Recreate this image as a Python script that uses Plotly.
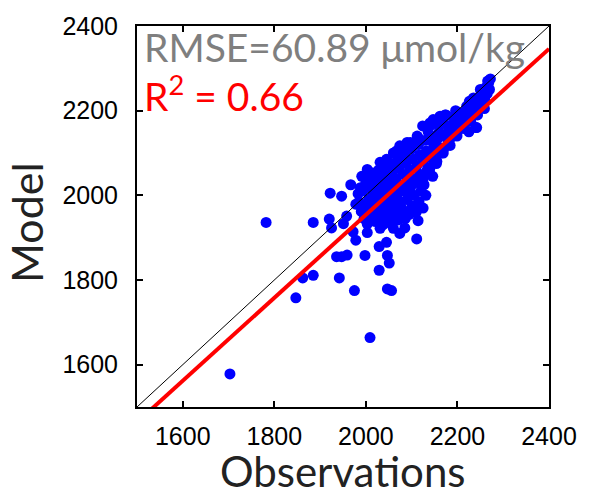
import plotly.graph_objects as go

# Observations (x) and model (y) values, µmol/kg
obs = [
    1703, 1782, 1847, 1862, 1885, 1885, 1920, 1925, 1942, 1936, 1947, 1959, 1958, 1951,
    1972, 1978, 1975, 1998, 2003, 2009, 2029, 2045, 2047, 2051, 2029, 2047, 2056, 2031,
    2060, 2074, 2085, 2111, 1922, 1947, 1967, 1983, 1978, 1991, 2003, 2015, 2038, 2053,
    2067,
    2016, 2031, 2045, 2060, 2074, 2090, 2103, 2114, 2124, 2140, 2147, 2162, 2173, 2242, 2227,
    1985, 1990, 1993, 1996, 1998, 2000, 1988,
    2005, 2006, 2008, 2010, 2012, 2014, 2015, 2011,
    2020, 2022, 2024, 2025, 2027, 2028, 2030, 2026, 2021,
    2035, 2036, 2038, 2040, 2041, 2042, 2044, 2045, 2037,
    2050, 2051, 2053, 2055, 2056, 2057, 2058, 2060, 2052,
    2065, 2066, 2068, 2070, 2071, 2072, 2073, 2075, 2067,
    2080, 2081, 2083, 2085, 2086, 2087, 2088, 2090, 2082,
    2095, 2096, 2098, 2100, 2101, 2102, 2104, 2105, 2097,
    2110, 2111, 2113, 2115, 2116, 2117, 2118, 2120, 2112,
    2125, 2126, 2128, 2130, 2131, 2132, 2134, 2135, 2127,
    2140, 2142, 2144, 2146, 2148, 2150, 2141, 2147,
    2155, 2157, 2160, 2162, 2164, 2158,
    2170, 2172, 2175, 2178, 2180,
    2185, 2187, 2190, 2193, 2195,
    2200, 2202, 2205, 2208, 2210,
    2215, 2217, 2220, 2223, 2225,
    2230, 2232, 2235, 2238, 2240,
    2245, 2247, 2250, 2253, 2255,
    2260, 2262, 2265, 2268, 2270, 2272, 2266,
    2002, 2018, 2033, 2048, 2062, 2077, 2092, 2107, 2122,
    2009, 2024, 2039, 2054, 2069, 2084, 2099, 2114,
    2003, 2019, 2034, 2049, 2064, 2079, 2094, 2109, 2124,
    2139, 2154, 2169, 2184, 2199, 2214, 2229, 2244, 2259,
    2136, 2151, 2166, 2181, 2196, 2211, 2226,
]
model = [
    1578, 1936, 1758, 1805, 1811, 1936, 1944, 1923, 1805, 1855, 1855, 1859, 1951, 1933,
    1914, 1894, 1775, 1858, 1912, 1664, 1879, 1889, 1858, 1840, 1823, 1779, 1775, 1922,
    1922, 1910, 1923, 1897, 2005, 1998, 2025, 2004, 1979, 2045, 2061, 2053, 1945, 1949,
    1953,
    2039, 2078, 2085, 2100, 2117, 2125, 2121, 2136, 2164, 2171, 2179, 2187, 2190, 2160, 2215,
    1985, 1962, 2010, 1945, 1975, 2030, 2018,
    1950, 1990, 2040, 1968, 2015, 1940, 2000, 2048,
    1958, 1985, 2030, 1945, 2008, 2060, 1972, 2045, 1938,
    1955, 1990, 2020, 2068, 1940, 2005, 2045, 1975, 1930,
    1962, 2030, 1995, 2075, 1945, 2015, 2055, 1980, 1935,
    1960, 2040, 2000, 2090, 1942, 2065, 2020, 1985, 2105,
    1965, 2050, 2010, 2100, 1945, 2075, 2030, 1990, 2115,
    1955, 2060, 2020, 2110, 1975, 2085, 2040, 2000, 2125,
    1960, 2070, 2030, 2120, 1985, 2095, 2050, 2010, 2140,
    1970, 2080, 2045, 2130, 2000, 2105, 2060, 2160, 2025,
    2065, 2100, 2140, 2045, 2120, 2170, 2165, 2085,
    2080, 2115, 2150, 2185, 2100, 2135,
    2110, 2140, 2190, 2165, 2125,
    2135, 2160, 2185, 2150, 2175,
    2150, 2175, 2195, 2165, 2185,
    2160, 2195, 2210, 2180, 2150,
    2190, 2215, 2230, 2200, 2160,
    2205, 2230, 2250, 2215, 2240,
    2225, 2255, 2240, 2265, 2250, 2275, 2270,
    1972, 1995, 1962, 2012, 1948, 1972, 2045, 1968, 2090,
    2022, 2052, 1998, 1972, 2082, 2088, 1968, 1940,
    1932, 1948, 2040, 1985, 2030, 1958, 2008, 1976, 2035,
    2055, 2075, 2100, 2118, 2140, 2158, 2175, 2190, 2205,
    2150, 2110, 2172, 2150, 2200, 2170, 2222,
]

axis_range = [1500, 2400]
tick_vals = [1600, 1800, 2000, 2200, 2400]
fit_slope = 0.98
fit_intercept = -6.0
rmse_text = "RMSE=60.89 μmol/kg"
r2_text = "R<sup>2</sup> = 0.66"

fit_y = [fit_slope * v + fit_intercept for v in axis_range]

fig = go.Figure()
fig.add_trace(go.Scatter(
    x=obs, y=model, mode="markers",
    marker=dict(color="#0000ff", size=11, line=dict(width=0)),
    showlegend=False, hoverinfo="skip",
))
fig.add_trace(go.Scatter(
    x=axis_range, y=axis_range, mode="lines",
    line=dict(color="black", width=1), showlegend=False, hoverinfo="skip",
))
fig.add_trace(go.Scatter(
    x=axis_range, y=fit_y, mode="lines",
    line=dict(color="#ff0000", width=4), showlegend=False, hoverinfo="skip",
))

axis_common = dict(
    range=axis_range, tickvals=tick_vals, ticks="inside", ticklen=6,
    tickwidth=1.5, tickcolor="black", mirror="ticks", showline=True,
    linecolor="black", linewidth=2, showgrid=False, zeroline=False,
    tickfont=dict(family="Liberation Sans, Arial, sans-serif", size=25, color="black"),
)
fig.update_xaxes(**axis_common, ticklabelstandoff=6)
fig.update_yaxes(**axis_common, ticklabelstandoff=12)

fig.add_annotation(text=rmse_text, xref="paper", yref="paper", x=0.012, y=0.945,
                   xanchor="left", yanchor="middle", showarrow=False,
                   font=dict(family="Lato, sans-serif", size=39, color="#7f7f7f"))
fig.add_annotation(text=r2_text, xref="paper", yref="paper", x=0.012, y=0.822,
                   xanchor="left", yanchor="middle", showarrow=False,
                   font=dict(family="Lato, sans-serif", size=39, color="#ff0000"))
fig.add_annotation(text="Observations", xref="paper", yref="paper", x=0.5, y=-0.168,
                   xanchor="center", yanchor="middle", showarrow=False,
                   font=dict(family="Lato, sans-serif", size=42, color="#222222"))
fig.add_annotation(text="Model", xref="paper", yref="paper", x=-0.27, y=0.485,
                   xanchor="center", yanchor="middle", showarrow=False, textangle=-90,
                   font=dict(family="Lato, sans-serif", size=43, color="#222222"))

fig.update_layout(
    width=589, height=495,
    margin=dict(l=137, r=40, t=22, b=88),
    paper_bgcolor="white", plot_bgcolor="white",
)
fig.write_html("out.html")
